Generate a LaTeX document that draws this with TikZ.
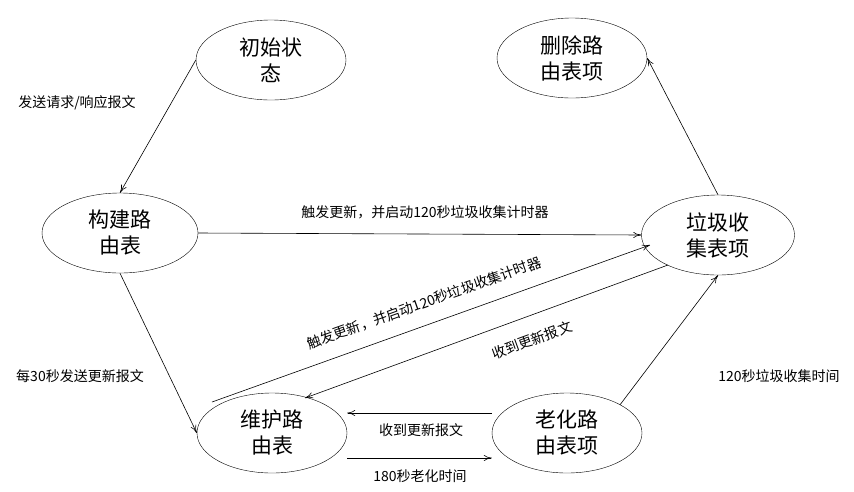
\documentclass[tikz,border=0pt]{standalone}
\usepackage{fontspec}
\setmainfont{Noto Sans CJK SC}
\usetikzlibrary{shapes.geometric,arrows.meta}
\begin{document}
\begin{tikzpicture}[x=1pt,y=-1pt,
  st/.style={draw,ellipse,minimum width=150pt,minimum height=80pt,inner sep=0pt,align=center,font=\fontsize{21}{26}\selectfont},
  lb/.style={font=\fontsize{14}{16}\selectfont,inner sep=1pt},
  ar/.style={-{To[length=8pt,width=6pt]},line width=0.6pt}]
\useasboundingbox (0,0) rectangle (854,491);
\node[st] (init) at (271,60) {初始状\\态};
\node[st] (del) at (572,58) {删除路\\由表项};
\node[st,minimum width=156pt] (build) at (120,233) {构建路\\由表};
\node[st,minimum width=153pt] (gc) at (718,235) {垃圾收\\集表项};
\node[st] (main) at (272,433) {维护路\\由表};
\node[st] (age) at (567,433) {老化路\\由表项};
\draw[ar] (init.west) -- (build.north);
\node[lb] at (77,103) {发送请求/响应报文};
\draw[ar] (build.east) -- (gc.west);
\node[lb] at (425,212) {触发更新，并启动120秒垃圾收集计时器};
\draw[ar] (build.south) -- (main.west);
\node[lb] at (80,376) {每30秒发送更新报文};
\coordinate (mt) at (212,402);
\coordinate (gw) at (650,245);
\draw[ar] (mt) -- (gw);
\node[lb,rotate=19.6] at (424,303) {触发更新，并启动120秒垃圾收集计时器};
\coordinate (gs) at (668,265);
\coordinate (mr) at (305,398);
\draw[ar] (gs) -- (mr);
\node[lb,rotate=20] at (532,340) {收到更新报文};
\draw[ar] (age.west|-0,413) -- (main.east|-0,413);
\node[lb] at (421,430) {收到更新报文};
\draw[ar] (main.east|-0,458) -- (age.west|-0,458);
\node[lb] at (420,476) {180秒老化时间};
\draw[ar] (age.north east) -- (gc.south);
\node[lb] at (779,376) {120秒垃圾收集时间};
\draw[ar] (gc.north) -- (del.east);
\end{tikzpicture}
\end{document}
